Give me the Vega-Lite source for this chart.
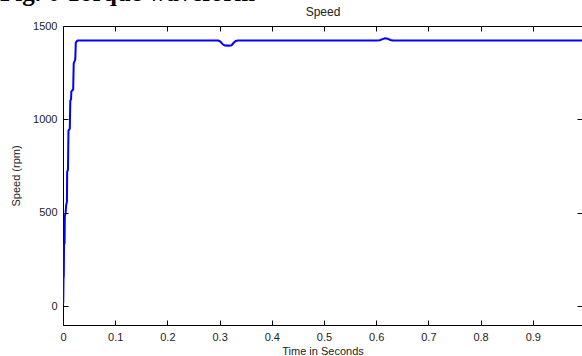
{
  "$schema": "https://vega.github.io/schema/vega-lite/v6.json",
  "width": 519,
  "height": 299,
  "autosize": {"type": "none"},
  "padding": {"left": 63, "top": 26, "right": 0, "bottom": 31},
  "background": "white",
  "title": {
    "text": "Fig. 6 Torque waveform",
    "anchor": "start",
    "frame": "group",
    "font": "Liberation Serif",
    "fontSize": 25,
    "fontWeight": "bold",
    "color": "#000000",
    "offset": 0,
    "dx": -63
  },
  "config": {
    "view": {"stroke": null},
    "axis": {
      "grid": false,
      "labelFont": "Liberation Sans",
      "labelFontSize": 11,
      "labelColor": "#222222",
      "titleFont": "Liberation Sans",
      "titleFontSize": 11,
      "titleFontWeight": "normal",
      "titleColor": "#222222",
      "domainColor": "#000000",
      "tickColor": "#000000",
      "tickSize": -5,
      "domainWidth": 1,
      "tickWidth": 1
    }
  },
  "data": {
    "values": [
      {"t": 0, "speed": 10},
      {"t": 0.0005, "speed": 25},
      {"t": 0.001, "speed": 150},
      {"t": 0.0015, "speed": 160},
      {"t": 0.002, "speed": 330},
      {"t": 0.003, "speed": 340},
      {"t": 0.0035, "speed": 480},
      {"t": 0.005, "speed": 500},
      {"t": 0.006, "speed": 540},
      {"t": 0.0075, "speed": 560},
      {"t": 0.008, "speed": 720},
      {"t": 0.0095, "speed": 730},
      {"t": 0.0105, "speed": 940},
      {"t": 0.013, "speed": 950},
      {"t": 0.014, "speed": 1100},
      {"t": 0.0155, "speed": 1110},
      {"t": 0.016, "speed": 1150},
      {"t": 0.0195, "speed": 1160},
      {"t": 0.0205, "speed": 1300},
      {"t": 0.0235, "speed": 1320},
      {"t": 0.0245, "speed": 1410},
      {"t": 0.026, "speed": 1418},
      {"t": 0.028, "speed": 1422},
      {"t": 0.1, "speed": 1422},
      {"t": 0.2, "speed": 1422},
      {"t": 0.298, "speed": 1422},
      {"t": 0.302, "speed": 1415},
      {"t": 0.306, "speed": 1402},
      {"t": 0.31, "speed": 1396},
      {"t": 0.318, "speed": 1395},
      {"t": 0.323, "speed": 1397},
      {"t": 0.327, "speed": 1410},
      {"t": 0.331, "speed": 1420},
      {"t": 0.335, "speed": 1422},
      {"t": 0.4, "speed": 1422},
      {"t": 0.5, "speed": 1422},
      {"t": 0.6, "speed": 1423},
      {"t": 0.607, "speed": 1424},
      {"t": 0.612, "speed": 1430},
      {"t": 0.617, "speed": 1434},
      {"t": 0.622, "speed": 1432},
      {"t": 0.627, "speed": 1425},
      {"t": 0.632, "speed": 1422},
      {"t": 0.7, "speed": 1422},
      {"t": 0.8, "speed": 1422},
      {"t": 0.9, "speed": 1422},
      {"t": 1.0, "speed": 1422}
    ]
  },
  "layer": [
    {
      "mark": {"type": "line", "color": "#0000ff", "strokeWidth": 2, "clip": true},
      "encoding": {
        "x": {
          "field": "t", "type": "quantitative",
          "scale": {"domain": [0, 0.9943], "nice": false, "zero": false},
          "axis": {
            "orient": "bottom",
            "values": [0, 0.1, 0.2, 0.3, 0.4, 0.5, 0.6, 0.7, 0.8, 0.9],
            "format": "~g",
            "labelPadding": 11,
            "labelFlush": false,
            "title": "Time in Seconds",
            "titlePadding": 3
          }
        },
        "y": {
          "field": "speed", "type": "quantitative",
          "scale": {"domain": [-100, 1500], "nice": false, "zero": false},
          "axis": {
            "orient": "left",
            "values": [0, 500, 1000, 1500],
            "format": "d",
            "labelPadding": 11,
            "labelFlush": false,
            "title": "Speed (rpm)",
            "titlePadding": 11
          }
        }
      }
    },
    {
      "mark": {"type": "line", "opacity": 0},
      "encoding": {
        "x": {
          "field": "t", "type": "quantitative",
          "axis": {
            "orient": "top",
            "values": [0.1, 0.2, 0.3, 0.4, 0.5, 0.6, 0.7, 0.8, 0.9],
            "labels": false,
            "title": "Speed",
            "titleFontSize": 12,
            "titlePadding": 7
          }
        },
        "y": {
          "field": "speed", "type": "quantitative",
          "axis": {
            "orient": "right",
            "values": [0, 500, 1000, 1500],
            "labels": false,
            "domain": false,
            "title": null
          }
        }
      }
    }
  ],
  "resolve": {"axis": {"x": "independent", "y": "independent"}}
}
